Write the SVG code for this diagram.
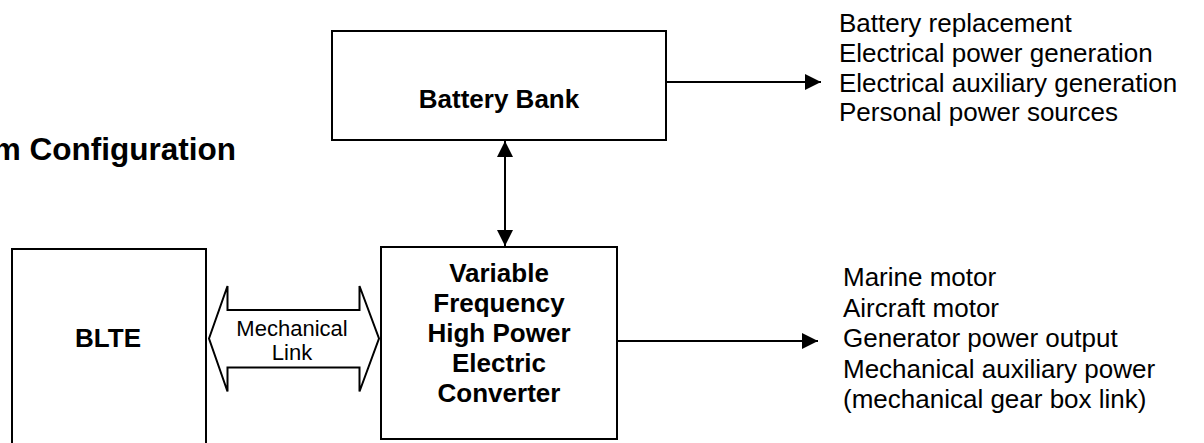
<svg xmlns="http://www.w3.org/2000/svg" width="1204" height="443" viewBox="0 0 1204 443">
<defs>
<style>
.box{fill:#fff;stroke:#000;stroke-width:2}
.b{font-family:"Liberation Sans",Arial,sans-serif;font-weight:bold;font-size:26px;fill:#000}
.r{font-family:"Liberation Sans",Arial,sans-serif;font-size:26px;fill:#000}
.s{font-family:"Liberation Sans",Arial,sans-serif;font-size:22px;fill:#000}
.ln{stroke:#000;stroke-width:2;fill:none}
</style>
<marker id="ah" markerWidth="16" markerHeight="16" viewBox="0 0 16 16" refX="16" refY="8" orient="auto-start-reverse" markerUnits="userSpaceOnUse">
<path d="M0,0 L16,8 L0,16 Z" fill="#000"/>
</marker>
</defs>
<rect width="1204" height="443" fill="#fff"/>
<text class="b" x="236" y="160" text-anchor="end" style="font-size:31.5px">m Configuration</text>
<g id="battery">
<rect class="box" x="332" y="31" width="334" height="109"/>
<text class="b" x="499" y="108" text-anchor="middle">Battery Bank</text>
</g>
<g id="converter">
<rect class="box" x="381" y="247" width="236" height="192"/>
<text class="b" text-anchor="middle"><tspan x="499" y="282">Variable</tspan><tspan x="499" y="312">Frequency</tspan><tspan x="499" y="342">High Power</tspan><tspan x="499" y="372">Electric</tspan><tspan x="499" y="402">Converter</tspan></text>
</g>
<g id="blte">
<rect class="box" x="12" y="249" width="194" height="210"/>
<text class="b" x="108" y="347" text-anchor="middle">BLTE</text>
</g>
<g id="battery-uses">
<text class="r"><tspan x="839" y="32">Battery replacement</tspan><tspan x="839" y="62">Electrical power generation</tspan><tspan x="839" y="91.5">Electrical auxiliary generation</tspan><tspan x="839" y="121">Personal power sources</tspan></text>
</g>
<g id="converter-uses">
<text class="r"><tspan x="843" y="286">Marine motor</tspan><tspan x="843" y="316.5">Aircraft motor</tspan><tspan x="843" y="347">Generator power output</tspan><tspan x="843" y="377.5">Mechanical auxiliary power</tspan><tspan x="843" y="408">(mechanical gear box link)</tspan></text>
</g>
<g id="connectors">
<line class="ln" x1="666" y1="82" x2="821" y2="82" marker-end="url(#ah)"/>
<line class="ln" x1="617" y1="341" x2="818" y2="341" marker-end="url(#ah)"/>
<line class="ln" x1="505" y1="141" x2="505" y2="246" marker-start="url(#ah)" marker-end="url(#ah)"/>
<g id="mechanical-link">
<polygon class="ln" style="fill:#fff" points="209,338.5 227.5,286 227.5,310 359.5,310 359.5,286 379,338.5 359.5,391.5 359.5,367.5 227.5,367.5 227.5,391.5"/>
<text class="s" text-anchor="middle"><tspan x="292" y="336">Mechanical</tspan><tspan x="292" y="360">Link</tspan></text>
</g>
</g>
</svg>
